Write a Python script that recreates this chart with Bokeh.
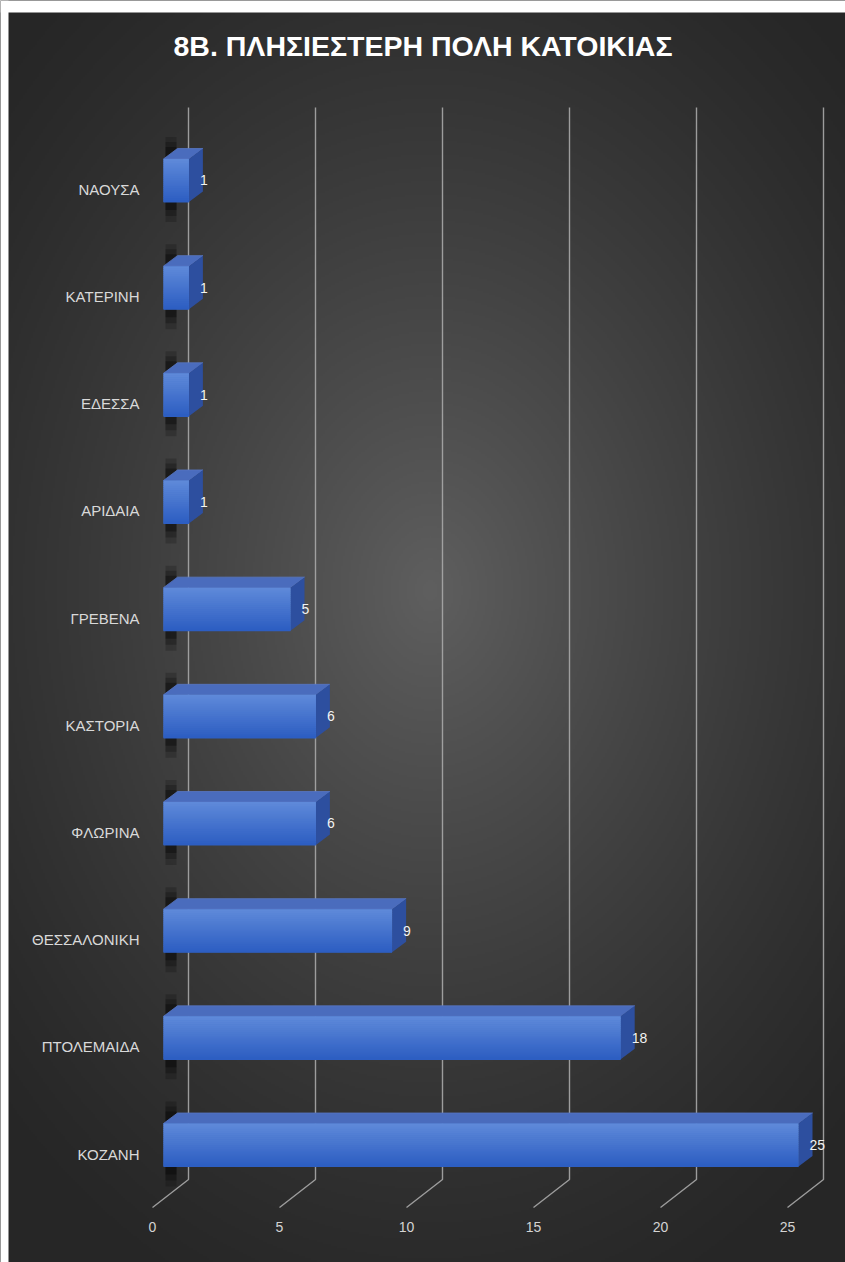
import numpy as np
from bokeh.plotting import figure
from bokeh.models import Range1d
from bokeh.core.properties import value
from bokeh.embed import file_html
from bokeh.resources import INLINE

# ---------------- data ----------------
title_text = "8Β. ΠΛΗΣΙΕΣΤΕΡΗ ΠΟΛΗ ΚΑΤΟΙΚΙΑΣ"
categories = ["ΚΟΖΑΝΗ", "ΠΤΟΛΕΜΑΙΔΑ", "ΘΕΣΣΑΛΟΝΙΚΗ", "ΦΛΩΡΙΝΑ", "ΚΑΣΤΟΡΙΑ",
              "ΓΡΕΒΕΝΑ", "ΑΡΙΔΑΙΑ", "ΕΔΕΣΣΑ", "ΚΑΤΕΡΙΝΗ", "ΝΑΟΥΣΑ"]
counts = [25, 18, 9, 6, 6, 5, 1, 1, 1, 1]
ticks = [0, 5, 10, 15, 20, 25]

# ---------------- layout (pixels) ----------------
W, H = 845, 1262
ML, MT = 8, 12
X0PX, PXU = 163.0, 25.4      # pixel of value 0 (front plane), px per unit
Y0PX, PYU = 1144.5, 107.17   # pixel of first category centre, px per category


def ux(px):
    return (px - X0PX) / PXU


def uy(py):
    return (Y0PX - py) / PYU


def dxp(d):
    return d / PXU


def dyp(d):
    return d / PYU


p = figure(width=W, height=H,
           x_range=Range1d(ux(0), ux(W)), y_range=Range1d(uy(H), uy(0)),
           output_backend="svg", toolbar_location=None,
           x_axis_type=None, y_axis_type=None,
           min_border_left=0, min_border_top=0, min_border_right=0, min_border_bottom=0,
           background_fill_color="#262626", border_fill_color="#262626",
           outline_line_color=None)

# ---------------- background radial gradient ----------------
fw, fh = W, H
nx, ny = fw // 2 + 1, fh // 2 + 1
jj = (np.arange(nx) + 0.5) * fw / nx
kk = fh - (np.arange(ny) + 0.5) * fh / ny
PX, PY = np.meshgrid(jj, kk)
d = np.sqrt(((PX - 430) / 600.0) ** 2 + ((PY - 590) / 790.0) ** 2)
d = np.clip(d, 0, 1)
t = (1 - d) ** 1.3
c = (0x26 + (0x5f - 0x26) * t).astype(np.uint8)
img = np.empty((ny, nx), dtype=np.uint32)
view = img.view(dtype=np.uint8).reshape((ny, nx, 4))
view[:, :, 0] = c
view[:, :, 1] = c
view[:, :, 2] = c
view[:, :, 3] = 255
p.image_rgba(image=[img], x=ux(0), y=uy(H), dw=ux(W) - ux(0), dh=uy(0) - uy(H))

# white page margin at top and left
p.quad(left=[ux(0), ux(0)], right=[ux(W), ux(ML)], top=[uy(0), uy(0)],
       bottom=[uy(MT), uy(H)], fill_color="white", line_color=None)

# ---------------- gridlines (back plane) + floor lines ----------------
BDX = dxp(25)
gx, gy = [], []
for tv in ticks:
    gx.append([tv + BDX, tv + BDX, tv + dxp(-11)])
    gy.append([uy(107), uy(1179), uy(1207)])
p.multi_line(xs=gx, ys=gy, line_color="#a8a8a8", line_width=1.4, line_alpha=0.9)

# tick labels
p.text(x=[tv + dxp(-11) for tv in ticks], y=[uy(1226)] * len(ticks),
       text=[str(tv) for tv in ticks], text_align="center", text_baseline="middle",
       text_font=value("Liberation Sans"), text_font_size="14px", text_color="#d4d4d4")

# ---------------- bars ----------------
HB = dyp(21.5)
TDX, TDY = dxp(14), dyp(10.5)
idx = list(range(len(categories)))

# side-wall shadows (soft, layered)
for k, (ext_b, ext_t, a) in enumerate([(20, 22, 0.18), (14, 17, 0.22), (8, 12, 0.3)]):
    p.quad(left=[ux(165)] * len(idx), right=[ux(176)] * len(idx),
           bottom=[i - HB - dyp(ext_b) for i in idx], top=[i + HB + dyp(ext_t) for i in idx],
           fill_color="#000000", fill_alpha=a, line_color=None)

# top faces
p.patches(xs=[[0, v, v + TDX, TDX] for v in counts],
          ys=[[i + HB, i + HB, i + HB + TDY, i + HB + TDY] for i, v in zip(idx, counts)],
          fill_color="#4a6cbd", line_color="#5877c4", line_width=0.8)
# right faces
p.patches(xs=[[v, v + TDX, v + TDX, v] for v in counts],
          ys=[[i + HB, i + HB + TDY, i - HB + TDY, i - HB] for i, v in zip(idx, counts)],
          fill_color="#2d4f9f", line_color=None)

# front faces with vertical gradient
stops_top = np.array([0x5e, 0x89, 0xd9])
stops_bot = np.array([0x2d, 0x5e, 0xc2])
n = 22
p.quad(left=[0] * len(idx), right=counts, top=[i + HB for i in idx],
       bottom=[i - HB for i in idx], fill_color="#4574cf", line_color=None)
for s in range(n):
    f = s / (n - 1)
    col = stops_top * (1 - f) + stops_bot * f
    colhex = "#%02x%02x%02x" % tuple(int(round(x)) for x in col)
    top_off = HB - 2 * HB * s / n
    bot_off = HB - 2 * HB * (s + 1) / n - dyp(0.6)
    p.quad(left=[0] * len(idx), right=counts,
           top=[i + top_off for i in idx], bottom=[i + bot_off for i in idx],
           fill_color=colhex, line_color=None)

# value labels
p.text(x=[v + dxp(11) for v in counts], y=idx, text=[str(v) for v in counts],
       text_align="left", text_baseline="middle",
       text_font=value("Liberation Sans"), text_font_size="14px", text_color="#f2f2f2")

# category labels
p.text(x=[ux(139)] * len(idx), y=[i - dyp(9) for i in idx], text=categories,
       text_align="right", text_baseline="middle",
       text_font=value("Liberation Sans"), text_font_size="15px", text_color="#d9d9d9")

# title
p.text(x=[ux(422.5)], y=[uy(45)], text=[title_text], text_align="center",
       text_baseline="middle", text_font=value("Liberation Sans"),
       text_font_size="28.5px", text_font_style="bold", text_color="#ffffff")

open("out.html", "w").write(file_html(p, INLINE))
